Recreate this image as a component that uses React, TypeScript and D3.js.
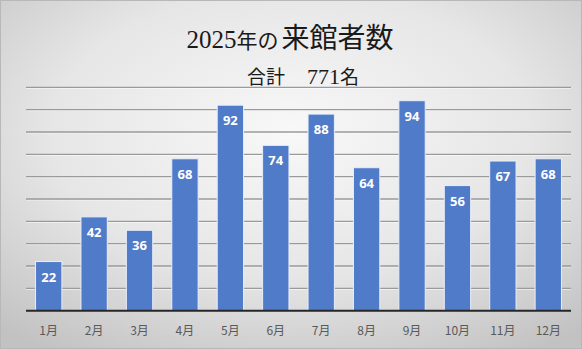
import React from "react";
import * as d3 from "d3";

const months = ["1月", "2月", "3月", "4月", "5月", "6月", "7月", "8月", "9月", "10月", "11月", "12月"];
const visitors = [22, 42, 36, 68, 92, 74, 88, 64, 94, 56, 67, 68];
const gridTicks = [10, 20, 30, 40, 50, 60, 70, 80, 90, 100];
const titleYear = "2025年の";
const titleMain = "来館者数";
const subtitleLabel = "合計";
const totalLabel = "771名";

const W = 582;
const H = 349;
const plot = { left: 26, right: 571, top: 87.3, bottom: 310.7 };

export default function App() {
  const x = d3.scaleBand<string>().domain(months).range([plot.left, plot.right]).paddingInner(0.42).paddingOuter(0.21);
  const y = d3.scaleLinear().domain([0, 100]).range([plot.bottom, plot.top]);

  return (
    <svg width={W} height={H} style={{ position: "absolute", left: 0, top: 0 }}>
      <defs>
        <radialGradient id="bg" cx="50%" cy="38%" r="75%">
          <stop offset="0%" stopColor="#f8f8f8" />
          <stop offset="55%" stopColor="#e6e6e6" />
          <stop offset="100%" stopColor="#c2c2c2" />
        </radialGradient>
      </defs>
      <rect x={0} y={0} width={W} height={H} fill="url(#bg)" />
      <rect x={0.5} y={0.5} width={W - 1} height={H - 1} fill="none" stroke="#b8b8b8" strokeWidth={1} />

      {gridTicks.map((t) => (
        <g key={t}>
          <line x1={plot.left} x2={plot.right} y1={y(t) + 1} y2={y(t) + 1} stroke="#ffffff" strokeOpacity={0.6} strokeWidth={1} />
          <line x1={plot.left} x2={plot.right} y1={y(t)} y2={y(t)} stroke="#9a9a9a" strokeWidth={1.3} />
        </g>
      ))}

      {visitors.map((v, i) => (
        <rect
          key={months[i]}
          x={x(months[i])!}
          y={y(v)}
          width={x.bandwidth()}
          height={y(0) - y(v)}
          fill="#4f7bc9"
          stroke="#e9eef7"
          strokeWidth={1}
        />
      ))}

      {visitors.map((v, i) => (
        <text
          key={"l" + i}
          x={x(months[i])! + x.bandwidth() / 2}
          y={y(v) + 20}
          textAnchor="middle"
          fill="#ffffff"
          fontFamily="'Open Sans', 'Noto Sans', sans-serif"
          fontWeight={700}
          fontSize={13}
        >
          {v}
        </text>
      ))}

      <line x1={plot.left} x2={plot.right} y1={plot.bottom} y2={plot.bottom} stroke="#262626" strokeWidth={2} />

      {months.map((m) => (
        <text
          key={"x" + m}
          x={x(m)! + x.bandwidth() / 2}
          y={335}
          textAnchor="middle"
          fill="#595959"
          fontFamily="'Noto Sans CJK JP', sans-serif"
          fontSize={12}
        >
          {m}
        </text>
      ))}

      <text x={290} y={48} textAnchor="middle" fill="#1a1a1a">
        <tspan fontSize={25} fontFamily="'Liberation Serif', serif">2025</tspan>
        <tspan fontSize={21} fontFamily="'Noto Sans CJK JP', sans-serif">{titleYear.slice(4)}</tspan>
        <tspan fontSize={28} fontFamily="'Noto Sans CJK JP', sans-serif" dx={3}>{titleMain}</tspan>
      </text>
      <text x={303} y={84} textAnchor="middle" fill="#1a1a1a">
        <tspan fontSize={19} fontFamily="'Noto Sans CJK JP', sans-serif">{subtitleLabel}</tspan>
        <tspan fontSize={22} fontFamily="'Liberation Serif', serif" dx={22}>{totalLabel.slice(0, 3)}</tspan>
        <tspan fontSize={19} fontFamily="'Noto Sans CJK JP', sans-serif">{totalLabel.slice(3)}</tspan>
      </text>
    </svg>
  );
}
